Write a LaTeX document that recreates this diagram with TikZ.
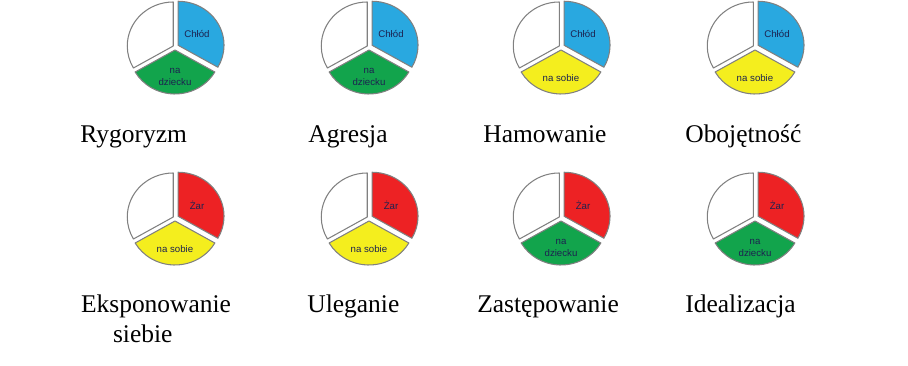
\documentclass[tikz,border=0pt]{standalone}
\usepackage{fontspec}
\setmainfont{Liberation Serif}
\newfontfamily\piefont{Liberation Sans}
\usepackage{tikz}
\usetikzlibrary{calc}
\usepackage{xcolor}
\definecolor{coldblue}  {RGB}{41, 168, 224}
\definecolor{heatred}   {RGB}{237, 34,  36}
\definecolor{childgreen}{RGB}{18, 164,  76}
\definecolor{selfyellow}{RGB}{244, 238, 30}
\definecolor{pietext}   {RGB}{28,  34,  80}
\tikzset{
  slice/.style={
    draw=black!50, line width=0.6pt, fill=#1, line join=round
  },
  slicetext/.style={
    font=\piefont\fontsize{5.5}{6.4}\selectfont, text=pietext,
    align=center, inner sep=0pt
  },
  attitude/.style={
    font=\fontsize{14.5}{17}\selectfont, anchor=base west, inner sep=0pt
  },
}

\begin{document}
\begin{tikzpicture}[x=0.02cm, y=0.02cm]
\useasboundingbox (0,0) rectangle (908,365);

% ── Pies: top slice (Chłód / Żar), bottom slice (1 = na dziecku, 2 = na sobie) ─
\foreach \cx/\cy/\topc/\toptxt/\botc/\kind/\k in {
  175/318/coldblue/Chłód/childgreen/1/1,
  369/318/coldblue/Chłód/childgreen/1/2,
  561/318/coldblue/Chłód/selfyellow/2/3,
  755/318/coldblue/Chłód/selfyellow/2/4,
  175/147/heatred/Żar/selfyellow/2/5,
  369/147/heatred/Żar/selfyellow/2/6,
  561/147/heatred/Żar/childgreen/1/7,
  755/147/heatred/Żar/childgreen/1/8
}{
  \coordinate (c\k) at (\cx,\cy);
  % white slice
  \draw[slice=white]
    ([shift={(150:2)}]c\k) -- ++(90:46 and 44)
    arc[start angle=90, end angle=210, x radius=46, y radius=44] -- cycle;
  % top right slice
  \draw[slice=\topc]
    ([shift={(30:3.5)}]c\k) -- ++(90:46 and 44)
    arc[start angle=90, end angle=-30, x radius=46, y radius=44] -- cycle;
  % bottom slice
  \draw[slice=\botc]
    ([shift={(270:3)}]c\k) -- ++(-30:46 and 44)
    arc[start angle=-30, end angle=-150, x radius=46, y radius=44] -- cycle;
  \node[slicetext] (top\k) at ($(c\k)+(22,13)$) {\toptxt};
  \ifnum\kind=1
    \node[slicetext] (bot\k) at ($(c\k)+(0,-30)$) {na\\dziecku};
  \else
    \node[slicetext] (bot\k) at ($(c\k)+(0,-31)$) {na sobie};
  \fi
}

% ── Attitude names ────────────────────────────────────────────────────────────
\node[attitude] (rygoryzm)   at (80,222)  {Rygoryzm};
\node[attitude] (agresja)    at (308,222) {Agresja};
\node[attitude] (hamowanie)  at (483,222) {Hamowanie};
\node[attitude] (obojetnosc) at (685,222) {Obojętność};

\node[attitude] (ekspo)      at (80.7,53) {Eksponowanie};
\node[attitude] (siebie)     at (112.7,23) {siebie};
\node[attitude] (uleganie)   at (307,53)  {Uleganie};
\node[attitude] (zastep)     at (477,53)  {Zastępowanie};
\node[attitude] (ideal)      at (685,53)  {Idealizacja};

\end{tikzpicture}
\end{document}
